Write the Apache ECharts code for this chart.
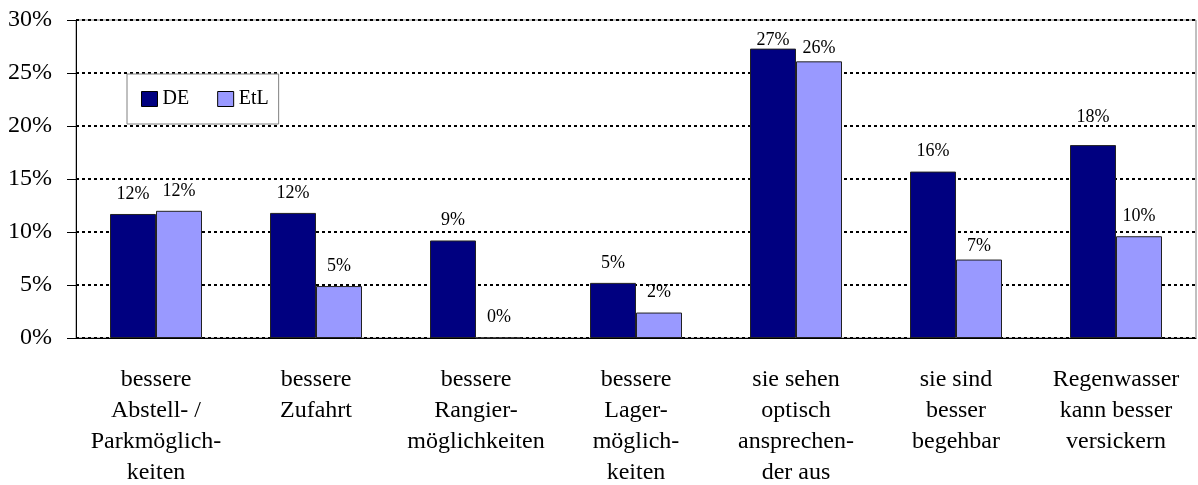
<!DOCTYPE html>
<html>
<head>
<meta charset="utf-8">
<style>
  * { margin: 0; padding: 0; }
  html, body { width: 100%; height: 100%; background: #fff; }
  #chart { width: 1198px; height: 485px; }
</style>
<script src="https://cdn.jsdelivr.net/npm/echarts@6/dist/echarts.min.js"></script>
</head>
<body>
<div id="chart"></div>
<script>
var categories = [
  'bessere\nAbstell- /\nParkmöglich-\nkeiten',
  'bessere\nZufahrt',
  'bessere\nRangier-\nmöglichkeiten',
  'bessere\nLager-\nmöglich-\nkeiten',
  'sie sehen\noptisch\nansprechen-\nder aus',
  'sie sind\nbesser\nbegehbar',
  'Regenwasser\nkann besser\nversickern'
]
var seriesNames = ['DE', 'EtL']
var valuesDE = [11.7, 11.8, 9.2, 5.2, 27.3, 15.7, 18.2]
var valuesEtL = [12.0, 4.9, 0, 2.4, 26.1, 7.4, 9.6]
var yTicks = [0, 5, 10, 15, 20, 25, 30]

// label gap above the bar (Excel placed a few of them oddly)
var labelGapDE = [11, 11, 11, 11, -1, 11, 19]
var labelGapEtL = [11, 11, 11, 11, 4, 4, 11]

var font = 'Liberation Serif'

function buildData(values, gaps) {
  return values.map(function(v, i) {
    return { value: v, label: { distance: gaps[i] } }
  })
}

var chart = echarts.init(document.getElementById('chart'))
var options = {
  animation: false,
  backgroundColor: '#fff',
  textStyle: { fontFamily: font, color: '#000' },
  grid: {
    left: 76,
    right: 2,
    top: 20,
    bottom: 147,
    outerBoundsMode: 'none',
    show: true,
    borderColor: '#808080',
    borderWidth: 1,
    backgroundColor: '#fff'
  },
  legend: {
    data: seriesNames,
    left: 127,
    top: 74,
    icon: 'rect',
    itemWidth: 16,
    itemHeight: 15,
    itemGap: 28,
    padding: [15, 10, 15, 14],
    borderColor: '#808080',
    borderWidth: 1,
    backgroundColor: '#fff',
    itemStyle: { borderColor: '#000', borderWidth: 1 },
    textStyle: { fontFamily: font, fontSize: 20, color: '#000', lineHeight: 19 }
  },
  xAxis: {
    type: 'category',
    data: categories,
    axisLine: { lineStyle: { color: '#000', width: 1 } },
    axisTick: { length: 9, lineStyle: { color: '#555' } },
    axisLabel: {
      interval: 0,
      margin: 26,
      fontFamily: font,
      fontSize: 24,
      lineHeight: 31,
      color: '#000'
    }
  },
  yAxis: {
    type: 'value',
    min: yTicks[0],
    max: yTicks[yTicks.length - 1],
    interval: 5,
    axisLine: { show: true, lineStyle: { color: '#000', width: 1 } },
    axisTick: { show: true, length: 9, lineStyle: { color: '#000' } },
    axisLabel: {
      margin: 24,
      fontFamily: font,
      fontSize: 24,
      color: '#000',
      formatter: '{value}%'
    },
    splitLine: {
      show: true,
      lineStyle: { color: '#000', width: 2, type: [3, 3] }
    }
  },
  series: [
    {
      name: seriesNames[0],
      type: 'bar',
      barWidth: 46,
      barGap: '0%',
      itemStyle: { color: '#000080', borderColor: '#222', borderWidth: 1 },
      label: {
        show: true,
        position: 'top',
        fontFamily: font,
        fontSize: 18,
        color: '#000',
        formatter: function(p) { return Math.round(p.value) + '%' }
      },
      data: buildData(valuesDE, labelGapDE)
    },
    {
      name: seriesNames[1],
      type: 'bar',
      barWidth: 46,
      barGap: '0%',
      itemStyle: { color: '#9999ff', borderColor: '#222', borderWidth: 1 },
      label: {
        show: true,
        position: 'top',
        fontFamily: font,
        fontSize: 18,
        color: '#000',
        formatter: function(p) { return Math.round(p.value) + '%' }
      },
      data: buildData(valuesEtL, labelGapEtL)
    }
  ]
}
chart.setOption(options)
</script>
</body>
</html>
